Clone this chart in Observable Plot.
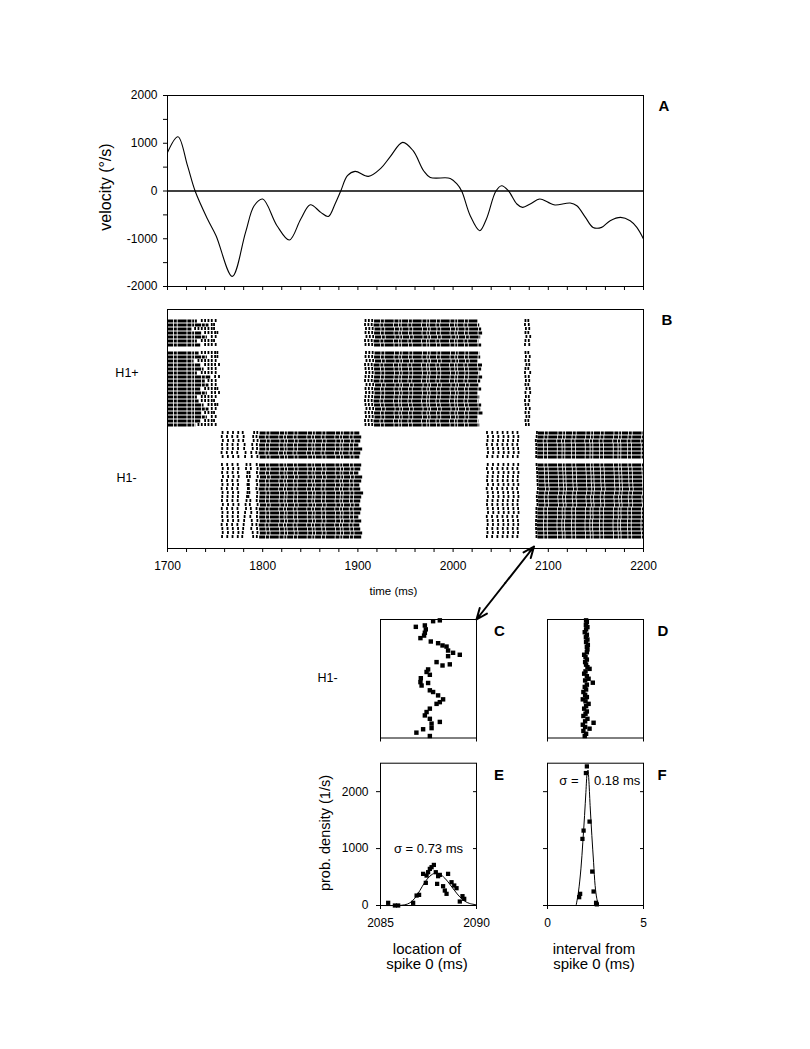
<!DOCTYPE html>
<html><head><meta charset="utf-8">
<script src="https://cdn.jsdelivr.net/npm/d3@7"></script>
<script src="https://cdn.jsdelivr.net/npm/@observablehq/plot@0.6"></script>
<style>
body{margin:0;background:#fff;}
#fig{position:relative;width:810px;height:1049px;font-family:"Liberation Sans",Arial,Helvetica,sans-serif;color:#000;overflow:hidden;}
.lbl{position:absolute;white-space:nowrap;line-height:1;text-align:center;}
</style></head><body><div id="fig"></div>
<script>
// ---------- Panel A: velocity trace ----------
const velTime = [1700,1711,1721,1729,1742,1751,1768,1782,1791,1800,1815,1828,1840,1850,1861,1869,1876,1882,1889,1897,1911,1924,1934,1947,1958,1969,1976,1997,2004,2009,2018,2028,2035,2045,2051,2058,2067,2073,2081,2091,2100,2107,2123,2130,2139,2147,2156,2165,2176,2186,2193,2200];
const velValue = [808,1137,530,0,-586,-936,-1788,-866,-308,-168,-727,-1027,-587,-287,-447,-532,-272,0,320,411,306,474,720,1018,844,425,285,264,147,0,-517,-831,-586,0,111,6,-272,-343,-272,-168,-238,-293,-251,-308,-552,-762,-762,-622,-552,-622,-762,-1005];
const velTickLabels = [-2000,-1000,0,1000,2000];
const timeTickLabels = [1700,1800,1900,2000,2100,2200];

// ---------- Panel B: spike rasters (27 trials per cell, trial 7 empty) ----------
const nTrials = 27, emptyTrial = 7;
// H1+ burst 1
const p1DenseEnd = [1731.4,1743.6,1726.2,1736.7,1741.9,1731.4,1734.9,null,1733.2,1741.9,1727.9,1734.9,1738.4,1731.4,1745.4,1740.1,1743.6,1734.9,1741.9,1731.4,1733.2,1738.4,1743.6,1736.7,1741.9,1734.9,1729.7];
const p1LastSpike = [1750.6,1748.9,1748.9,1752.4,1750.6,1748.9,1750.6,null,1752.4,1752.4,1750.6,1754.1,1750.6,1750.6,1754.1,1750.6,1750.6,1752.4,1754.1,1750.6,1748.9,1752.4,1750.6,1748.9,1750.6,1748.9,1750.6];
const p1SparseGrid = [1729,1732.5,1736,1739.5,1743,1746.5,1750,1753.5];
// H1+ burst 2
const p2Onset = [1908,1907.5,1908.5,1908,1909,1907.5,1908,null,1908.5,1908,1909,1907.5,1908,1908.5,1908,1907.5,1909,1908,1908.5,1908,1907.5,1908,1909,1908,1908.5,1907.5,1908];
const p2SparseOffsets = [0,3.5,7];
const p2DenseOffset = 9.5;
const p2End = [2026,2028,2030,2031,2029,2027,2030,null,2028,2029,2026,2031,2030,2028,2031,2029,2027,2030,2026,2028,2027,2030,2029,2032,2026,2027,2028];
// H1+ burst 3
const p3a = [2076,2075.5,2076.5,2076,2077,2076,2075.5,null,2076,2076.5,2076,2077,2076,2075.5,2076,2076.5,2076,2077,2076,2076.5,2075.5,2076,2076.5,2076,2077,2076,2076.5];
const p3b = [2079,2079.5,2080,2079,2081,2079.5,2080,null,2079,2080.5,2079.5,2080,2079,2081,2079.5,2080,2079,2080.5,2081,2079.5,2080,2079,2080.5,2079.5,2080,2079,2079.5];
// H1- burst 1
const m1Columns = [1757.5,1763,1768.5,1774,1794];
const m1Jitter = [0.3,-0.5,0.6,-0.2,0.1,-0.7,0.4,null,-0.3,0.5,-0.1,0.7,-0.4,0.2,-0.6,0.3,0.0,-0.3,0.6,-0.5,0.2,-0.1,0.4,-0.6,0.1,0.5,-0.2];
const m1SlantA = [1779,1780,1779.5,1781,1780.5,1782,1781.5,null,1783,1782.5,1784,1783.5,1785,1784,1785.5,1786,1785,1787,1786.5,1787.5,1788,1787,1788.5,1789,1788,1789.5,1790];
const m1SlantB = [1791,1790,1790.5,1789,1789.5,1788,1788.5,null,1787,1787.5,1786,1786.5,1785,1785.5,1784.5,1784,1783.5,1783,1782,1782.5,1781.5,1781,1780.5,1780,1779.5,1779,1778.5];
const m1DenseStart = 1797;
const m1End = [1902,1904,1903,1901,1905,1903,1902,null,1904,1903,1901,1905,1904,1902,1903,1906,1904,1903,1902,1904,1903,1901,1904,1902,1903,1905,1904];
// H1- burst 2
const m2Columns = [2036,2041.5,2047,2052.5,2057.5,2063,2068];
const m2Jitter = [-0.4,0.5,0.1,-0.6,0.3,0.7,-0.2,null,0.4,-0.5,0.6,0.0,-0.3,0.5,-0.7,0.2,0.6,-0.1,-0.4,0.3,0.7,-0.6,0.1,0.4,-0.3,0.2,-0.5];
// H1- burst 3 (starts with spike 0, see panel C)
const m3Gap = 1.6;
const m3End = 2200;

// ---------- Panel C: location of spike 0 per trial ----------
const cLocation = [2088.09,2087.74,2086.84,2087.31,2087.36,2087.31,2087.27,2087.08,2087.62,2088.00,2088.23,2088.44,2088.52,2088.78,2089.13,2088.52,2087.92,2088.23,2088.61,2087.48,2087.40,2087.57,2087.10,2087.08,2087.14,2087.48,2087.57,2087.74,2088.00,2088.26,2088.09,2087.92,2087.57,2087.40,2087.31,2087.57,2087.66,2088.09,2087.66,2087.22,2086.87,2087.57];
const cTrial = [0.3,0.6,2.6,2.1,3.5,4.7,5.7,6.6,7.8,8.4,9.2,9.6,11.0,11.8,12.5,13.0,15.1,16.3,15.9,17.7,18.6,19.6,20.8,22.2,23.4,22.5,25.1,25.7,26.9,28.3,29.3,29.9,31.6,32.8,34.0,35.2,36.9,36.3,38.5,38.9,40.1,41.3];
// ---------- Panel D: interval from spike 0 ----------
const dInterval = [2.01,2.05,2.00,2.08,2.01,1.94,2.05,2.00,2.08,2.01,2.10,2.05,2.08,2.05,1.91,1.98,2.05,1.96,2.01,2.08,2.19,1.98,1.91,2.05,2.14,1.96,2.36,2.05,1.94,2.01,1.87,1.96,2.05,1.84,1.98,2.14,2.01,1.91,2.05,1.98,1.87,2.08,1.96,2.40,1.84,1.96,2.19,1.87,2.01,1.94];
const dTrial = [0.3,0.9,1.9,2.7,3.5,4.5,5.4,6.3,7.1,8.0,9.0,9.8,10.6,11.6,12.5,13.3,14.2,15.1,16.0,16.9,17.5,18.4,19.2,20.1,21.0,21.6,22.4,23.1,23.9,24.8,25.7,26.7,27.5,28.3,29.0,29.9,30.7,31.6,32.6,33.4,34.2,35.2,36.1,36.6,37.3,38.1,38.7,39.5,40.5,41.3];
// ---------- Panel E: distribution of spike 0 location ----------
const eLocation = [2085.40,2085.75,2085.92,2086.70,2086.88,2087.01,2087.36,2087.22,2087.40,2087.48,2087.66,2087.78,2087.57,2087.88,2088.00,2088.09,2087.95,2088.26,2088.35,2088.44,2088.52,2088.70,2088.84,2088.96,2089.27,2089.36,2089.13];
const eDensity = [47,0,0,47,175,187,398,556,526,585,673,713,643,585,515,538,380,339,263,205,556,409,351,304,164,117,70];
const eFitT = [2085.0,2085.83,2086.27,2086.53,2086.79,2087.05,2087.31,2087.57,2087.83,2088.09,2088.35,2088.61,2088.87,2089.13,2089.39,2089.65,2090.0];
const eFitV = [0,0,12,47,129,263,409,515,567,550,480,374,257,152,76,35,12];
// ---------- Panel F: distribution of interval ----------
const fInterval = [2.05,2.00,2.19,1.88,1.82,2.33,2.40,1.70,1.65,2.53,2.57];
const fDensity = [2444,2327,1474,1316,1170,596,246,205,146,47,20];
const fFitT = [1.49,1.61,1.74,1.84,1.93,2.00,2.07,2.11,2.15,2.22,2.31,2.40,2.48,2.57,2.66];
const fFitV = [0,234,643,1111,1579,1988,2339,2380,2222,1754,1228,760,351,117,0];
const sigmaLabels = ["σ = 0.73 ms", "σ =", "0.18 ms"];

// ================= drawing =================
const fig = document.getElementById("fig");
const baseStyle = {fontFamily: "'Liberation Sans', Arial, Helvetica, sans-serif", fontSize: "12px", background: "transparent", overflow: "visible"};
function place(svg, left, top) {
  svg.style.position = "absolute"; svg.style.left = left + "px"; svg.style.top = top + "px";
  svg.style.maxWidth = "none";
  fig.appendChild(svg); return svg;
}
function label(text, cx, cy, size, opts = {}) {
  const d = document.createElement("div");
  d.className = "lbl"; d.innerHTML = text;
  d.style.left = cx + "px"; d.style.top = cy + "px"; d.style.fontSize = size + "px";
  if (opts.bold) d.style.fontWeight = "bold";
  if (opts.lh) d.style.lineHeight = opts.lh + "px";
  d.style.transform = "translate(-50%,-50%)" + (opts.rotate ? " rotate(-90deg)" : "");
  fig.appendChild(d);
}
const timeMinorTicks = d3.range(1700, 2201, 20);
const velMinorTicks = d3.range(-2000, 2001, 500);

// Panel A
const velData = velTime.map((t, i) => ({t, v: velValue[i]}));
place(Plot.plot({
  width: 620, height: 225, marginLeft: 87, marginRight: 57, marginTop: 15, marginBottom: 19,
  style: baseStyle,
  x: {domain: [1700, 2200]}, y: {domain: [-2000, 2000]},
  marks: [
    Plot.frame({stroke: "black"}),
    Plot.axisY({ticks: velMinorTicks, tickSize: 4, tickPadding: 6, label: null,
      tickFormat: d => velTickLabels.includes(d) ? String(d) : ""}),
    Plot.axisX({ticks: timeMinorTicks, tickSize: 4, label: null, tickFormat: () => ""}),
    Plot.ruleY([0], {stroke: "black", strokeWidth: 1.3}),
    Plot.line(velData, {x: "t", y: "v", curve: "catmull-rom", stroke: "black", strokeWidth: 1.1})
  ]
}), 80, 80);

// Panel B data assembly
const plusKeys = d3.range(nTrials).map(r => "+" + r);
const minusKeys = d3.range(nTrials).map(r => "-" + r);
const rowKeys = [...plusKeys, "gap", ...minusKeys];
const runs = [], spikes = [];
for (let r = 0; r < nTrials; r++) {
  if (r === emptyTrial) continue;
  const kp = "+" + r, km = "-" + r;
  // H1+ burst 1
  runs.push({row: kp, t1: 1700, t2: p1DenseEnd[r]});
  for (const t of p1SparseGrid) if (t > p1DenseEnd[r] + 1.5 && t < p1LastSpike[r] - 1.5) spikes.push({row: kp, t});
  spikes.push({row: kp, t: p1LastSpike[r]});
  // H1+ burst 2
  for (const o of p2SparseOffsets) spikes.push({row: kp, t: p2Onset[r] + o});
  runs.push({row: kp, t1: p2Onset[r] + p2DenseOffset, t2: p2End[r]});
  // H1+ burst 3
  spikes.push({row: kp, t: p3a[r]}, {row: kp, t: p3b[r]});
  // H1- burst 1
  for (const c of m1Columns) spikes.push({row: km, t: c + m1Jitter[r]});
  spikes.push({row: km, t: m1SlantA[r]}, {row: km, t: m1SlantB[r]});
  runs.push({row: km, t1: m1DenseStart + m1Jitter[r], t2: m1End[r]});
  // H1- burst 2
  for (const c of m2Columns) spikes.push({row: km, t: c + m2Jitter[r]});
  // H1- burst 3
  spikes.push({row: km, t: cLocation[r]});
  runs.push({row: km, t1: cLocation[r] + m3Gap, t2: m3End});
}
const plotB = place(Plot.plot({
  width: 620, height: 295, marginLeft: 87, marginRight: 57, marginTop: 14, marginBottom: 42,
  style: baseStyle,
  x: {domain: [1700, 2200]},
  y: {type: "band", domain: rowKeys, padding: 0.3, axis: null},
  marks: [
    Plot.ruleY(runs, {x1: "t1", x2: "t2", y: "row", stroke: "black", strokeWidth: 3.1,
      strokeDasharray: "6,0.8,3,0.8,9,0.8,4,0.8,2,0.8"}),
    Plot.tickX(spikes, {x: "t", y: "row", stroke: "black", strokeWidth: 1.8}),
    Plot.frame({stroke: "black"}),
    Plot.axisX({ticks: timeMinorTicks, tickSize: 4, tickPadding: 9, label: null,
      tickFormat: d => timeTickLabels.includes(d) ? String(d) : ""})
  ]
}), 80, 295);

// Panel C
const cData = cLocation.map((t, i) => ({t, trial: cTrial[i]}));
const plotC = place(Plot.plot({
  width: 150, height: 145, marginLeft: 40, marginRight: 14, marginTop: 14, marginBottom: 12.5,
  style: baseStyle,
  x: {domain: [2085, 2090]}, y: {domain: [0, 42], reverse: true, axis: null},
  marks: [
    Plot.frame({stroke: "black"}),
    Plot.axisX({ticks: [2085, 2090], tickSize: 4, label: null, tickFormat: () => ""}),
    Plot.dot(cData, {x: "t", y: "trial", symbol: "square", r: 2.5, fill: "black"})
  ]
}), 340, 605);

// Panel D
const dData = dInterval.map((t, i) => ({t, trial: dTrial[i]}));
place(Plot.plot({
  width: 150, height: 145, marginLeft: 37, marginRight: 17, marginTop: 14, marginBottom: 12.5,
  style: baseStyle,
  x: {domain: [0, 5]}, y: {domain: [0, 42], reverse: true, axis: null},
  marks: [
    Plot.frame({stroke: "black"}),
    Plot.axisX({ticks: [0, 5], tickSize: 4, label: null, tickFormat: () => ""}),
    Plot.dot(dData, {x: "t", y: "trial", symbol: "square", r: 2.5, fill: "black"})
  ]
}), 510, 605);

// Panel E
const eData = eLocation.map((t, i) => ({t, v: eDensity[i]}));
const eFit = eFitT.map((t, i) => ({t, v: eFitV[i]}));
const densTicks = [0, 1000, 2000];
place(Plot.plot({
  width: 160, height: 185, marginLeft: 50, marginRight: 14, marginTop: 12.7, marginBottom: 30,
  style: baseStyle,
  x: {domain: [2085, 2090]}, y: {domain: [0, 2500]},
  marks: [
    Plot.frame({stroke: "black"}),
    Plot.axisY({ticks: densTicks, tickSize: 4, tickPadding: 8, label: null, tickFormat: d => String(d)}),
    Plot.axisY({anchor: "right", ticks: [1000, 2000], tickSize: 4, dx: -4, label: null, tickFormat: () => ""}),
    Plot.axisX({ticks: [2085, 2090], tickSize: 4, tickPadding: 9, label: null, tickFormat: d => String(d)}),
    Plot.line(eFit, {x: "t", y: "v", curve: "catmull-rom", stroke: "black", strokeWidth: 1}),
    Plot.dot(eData, {x: "t", y: "v", symbol: "square", r: 2.4, fill: "black"}),
    Plot.text([sigmaLabels[0]], {x: 2087.5, y: 1000, text: d => d, fontSize: 13, fill: "black"})
  ]
}), 330, 750);

// Panel F
const fData = fInterval.map((t, i) => ({t, v: fDensity[i]}));
const fFit = fFitT.map((t, i) => ({t, v: fFitV[i]}));
place(Plot.plot({
  width: 150, height: 185, marginLeft: 37, marginRight: 17, marginTop: 12.7, marginBottom: 30,
  style: baseStyle,
  x: {domain: [0, 5]}, y: {domain: [0, 2500]},
  marks: [
    Plot.frame({stroke: "black"}),
    Plot.axisY({ticks: densTicks, tickSize: 4, tickPadding: 8, label: null, tickFormat: () => ""}),
    Plot.axisY({anchor: "right", ticks: [1000, 2000], tickSize: 4, dx: -4, label: null, tickFormat: () => ""}),
    Plot.axisX({ticks: [0, 5], tickSize: 4, tickPadding: 9, label: null, tickFormat: d => String(d)}),
    Plot.line(fFit, {x: "t", y: "v", curve: "catmull-rom", stroke: "black", strokeWidth: 1}),
    Plot.dot(fData, {x: "t", y: "v", symbol: "square", r: 2.4, fill: "black"}),
    Plot.text([sigmaLabels[1]], {x: 1.62, y: 2190, text: d => d, textAnchor: "end", fontSize: 13, fill: "black"}),
    Plot.text([sigmaLabels[2]], {x: 2.42, y: 2190, text: d => d, textAnchor: "start", fontSize: 13, fill: "black"})
  ]
}), 510, 750);

// Arrow from raster B (t = 2085) to panel C corner
const xB = 80 + plotB.scale("x").apply(2085);
const yB = 295 + 295 - 42 - 2;
const xC = 340 + plotC.scale("x").apply(2090);
const yC = 605 + plotC.scale("y").apply(0);
const mx = (xB + xC) / 2, my = (yB + yC) / 2;
const overlay = Plot.plot({
  width: 810, height: 1049, margin: 0, style: baseStyle,
  x: {type: "identity", axis: null}, y: {type: "identity", axis: null},
  marks: [
    Plot.arrow([{x1: mx, y1: my, x2: xB, y2: yB}, {x1: mx, y1: my, x2: xC, y2: yC}],
      {x1: "x1", y1: "y1", x2: "x2", y2: "y2", stroke: "black", strokeWidth: 2, headLength: 9, headAngle: 45})
  ]
});
overlay.style.pointerEvents = "none";
place(overlay, 0, 0);

// Titles and labels
label("velocity (°/s)", 106, 187, 16, {rotate: true});
label("H1+", 127, 372.5, 12.5);
label("H1-", 126.5, 477.5, 12.5);
label("time (ms)", 393.5, 591.5, 11.5);
label("H1-", 327.5, 677.5, 12.5);
label("prob. density (1/s)", 325, 833, 14.5, {rotate: true});
label("location of<br>spike 0 (ms)", 427, 956, 15, {lh: 15});
label("interval from<br>spike 0 (ms)", 594, 956, 15, {lh: 15});
const panelLetters = [["A", 664, 105], ["B", 667, 318.5], ["C", 499.5, 630], ["D", 663, 630], ["E", 499, 773.5], ["F", 662, 773.5]];
for (const [t, x, y] of panelLetters) label(t, x, y, 15, {bold: true});
</script></body></html>
